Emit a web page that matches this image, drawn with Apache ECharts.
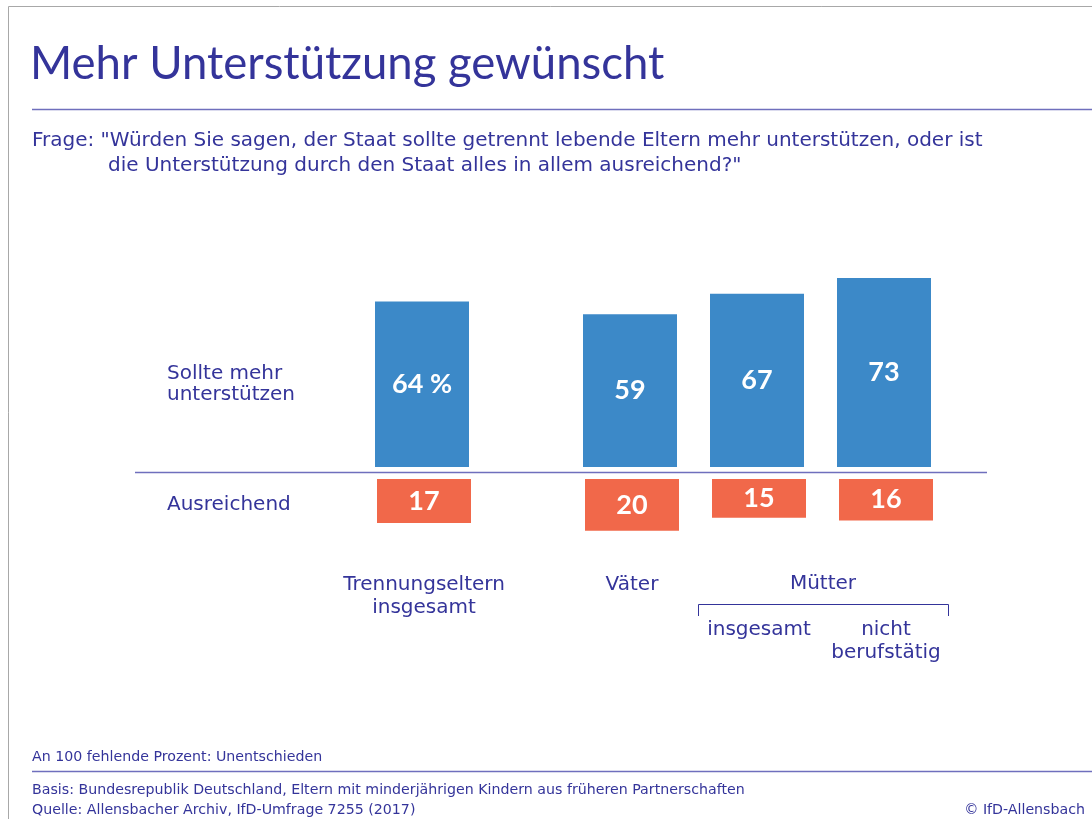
<!DOCTYPE html>
<html>
<head>
<meta charset="utf-8">
<script src="https://cdn.jsdelivr.net/npm/echarts@6/dist/echarts.min.js"></script>
<style>
  html, body { margin: 0; padding: 0; background: #fff; }
  #chart { width: 1092px; height: 819px; }
</style>
</head>
<body>
<div id="chart"></div>
<script>
// data
var categories = ['Trennungseltern\ninsgesamt', 'Väter', 'insgesamt', 'nicht\nberufstätig'];
var mutterGroup = [2, 3]; // indexes under "Mütter"
var sollteMehr = [64, 59, 67, 73];
var ausreichend = [17, 20, 15, 16];

var TEXT = '#34349a';
var RULE = '#6f6fbd';
var BLUE = '#3c89c8';
var ORANGE = '#f1684a';
var FONT = '"DejaVu Sans"';
var TFONT = 'Lato';

var chart = echarts.init(document.getElementById('chart'));

// two column blocks: first category alone, the other three together
var blocks = [
  { left: 358.5, idx: [0] },
  { left: 566.5, idx: [1, 2, 3] }
];
var slot = 127;

var grids = [], xAxes = [], yAxes = [], series = [];
blocks.forEach(function (b) {
  var w = slot * b.idx.length;
  // upper grid (blue)
  grids.push({ left: b.left, top: 260, width: w, height: 207 });
  // lower grid (orange)
  grids.push({ left: b.left + 2, top: 479, width: w, height: 77.6 });
  var cats = b.idx.map(function (i) { return categories[i]; });
  var up = grids.length - 2, lo = grids.length - 1;
  xAxes.push({ gridIndex: up, type: 'category', data: cats, show: false });
  xAxes.push({
    gridIndex: lo, type: 'category', data: cats,
    axisLine: { show: false }, axisTick: { show: false },
    axisLabel: {
      margin: 17, interval: 0, color: TEXT, fontFamily: FONT, fontSize: 20, lineHeight: 22.5,
      formatter: function (v, i) {
        var gi = b.idx[i];
        return mutterGroup.indexOf(gi) >= 0 ? '\n\n' + v : v;
      }
    }
  });
  yAxes.push({ gridIndex: up, type: 'value', min: 0, max: 80, show: false });
  yAxes.push({ gridIndex: lo, type: 'value', min: 0, max: 30, inverse: true, show: false });
  series.push({
    type: 'bar', xAxisIndex: up, yAxisIndex: up, barWidth: 94,
    data: b.idx.map(function (i) { return sollteMehr[i]; }),
    itemStyle: { color: BLUE },
    label: {
      show: true, position: 'inside', color: '#fff', fontFamily: TFONT,
      fontWeight: 'bold', fontSize: 27,
      formatter: function (p) { return (b.idx[p.dataIndex] === 0) ? p.value + ' %' : p.value; }
    }
  });
  series.push({
    type: 'bar', xAxisIndex: lo, yAxisIndex: lo, barWidth: 94,
    data: b.idx.map(function (i) { return ausreichend[i]; }),
    itemStyle: { color: ORANGE },
    label: { show: true, position: 'inside', color: '#fff', fontFamily: TFONT, fontWeight: 'bold', fontSize: 27 }
  });
});

function txt(x, y, s, size, extra, fam) {
  var o = { type: 'text', x: x, y: y, style: { text: s, fill: TEXT, font: size + 'px ' + (fam || FONT), textVerticalAlign: 'middle' } };
  if (extra) Object.assign(o.style, extra);
  return o;
}
function line(x1, y1, x2, y2, color, w) {
  return { type: 'line', shape: { x1: x1, y1: y1, x2: x2, y2: y2 }, style: { stroke: color, lineWidth: w || 1 } };
}

var option = {
  animation: false,
  backgroundColor: '#fff',
  grid: grids,
  xAxis: xAxes,
  yAxis: yAxes,
  series: series,
  graphic: [
    // frame
    { type: 'polyline', shape: { points: [[8.5, 819], [8.5, 6.5], [1092, 6.5]] }, style: { stroke: '#a8a8a8', fill: null, lineWidth: 1 } },
    txt(30, 64, 'Mehr Unterstützung gewünscht', 45.5, null, TFONT),
    line(32, 109.5, 1092, 109.5, RULE, 1.5),
    txt(32, 141, 'Frage: "Würden Sie sagen, der Staat sollte getrennt lebende Eltern mehr unterstützen, oder ist', 20),
    txt(108, 166, 'die Unterstützung durch den Staat alles in allem ausreichend?"', 20),
    txt(167, 374, 'Sollte mehr', 20),
    txt(167, 395, 'unterstützen', 20),
    txt(167, 505, 'Ausreichend', 20),
    // baseline
    line(135, 472.5, 987, 472.5, RULE, 1.5),
    // Mütter group
    txt(823, 584, 'Mütter', 20, { textAlign: 'center' }),
    { type: 'polyline', shape: { points: [[698.5, 616], [698.5, 604.5], [948.5, 604.5], [948.5, 616]] }, style: { stroke: TEXT, fill: null, lineWidth: 1 } },
    // footer
    txt(32, 757, 'An 100 fehlende Prozent: Unentschieden', 14.2),
    line(32, 771.5, 1092, 771.5, RULE, 1.5),
    txt(32, 790, 'Basis: Bundesrepublik Deutschland, Eltern mit minderjährigen Kindern aus früheren Partnerschaften', 14.2),
    txt(32, 810, 'Quelle: Allensbacher Archiv, IfD-Umfrage 7255 (2017)', 14.2),
    txt(1085, 810, '© IfD-Allensbach', 14.2, { textAlign: 'right' })
  ]
};
chart.setOption(option);
</script>
</body>
</html>
